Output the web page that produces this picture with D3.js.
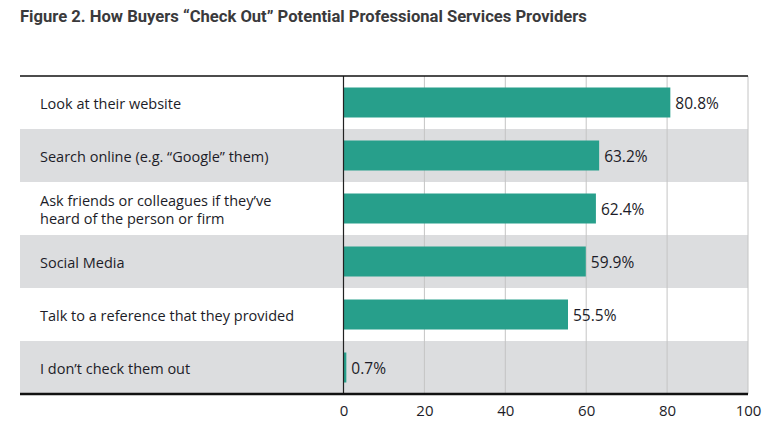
<!DOCTYPE html>
<html><head><meta charset="utf-8">
<script src="https://cdn.jsdelivr.net/npm/d3@7"></script>
<style>
body{margin:0;background:#fff;}
svg{display:block;}
</style></head>
<body>
<svg id="chart" width="782" height="430"></svg>
<script>
const title = "Figure 2. How Buyers \u201CCheck Out\u201D Potential Professional Services Providers";
const categories = [
  ["Look at their website"],
  ["Search online (e.g. \u201CGoogle\u201D them)"],
  ["Ask friends or colleagues if they\u2019ve", "heard of the person or firm"],
  ["Social Media"],
  ["Talk to a reference that they provided"],
  ["I don\u2019t check them out"]
];
const values = [80.8, 63.2, 62.4, 59.9, 55.5, 0.7];
const ticks = [0, 20, 40, 60, 80, 100];

(function () {
const svg = d3.select("#chart");
const L = 20, R = 748, T = 76, B = 394;
const x = d3.scaleLinear().domain([0, 100]).range([343.5, 748]);
const y = d3.scaleBand().domain(d3.range(values.length)).range([T, B]).paddingInner(0).paddingOuter(0);
const barPad = 11.5;
const font = "'Open Sans', Lato, sans-serif";

svg.append("text").attr("x", 20).attr("y", 22)
  .attr("font-family", "'Liberation Sans Narrow', 'Roboto', sans-serif")
  .attr("font-weight", "bold").attr("font-size", 16.6).attr("fill", "#3a3a3c")
  .text(title);

svg.selectAll("rect.band").data(values).enter().append("rect")
  .attr("x", L).attr("width", R - L)
  .attr("y", (d, i) => y(i)).attr("height", y.bandwidth())
  .attr("fill", (d, i) => i % 2 ? "#dcdddf" : "#ffffff");

svg.selectAll("line.grid").data(ticks.slice(1)).enter().append("line")
  .attr("x1", d => x(d)).attr("x2", d => x(d))
  .attr("y1", T).attr("y2", B)
  .attr("stroke", "#c4c4c4").attr("stroke-width", 1);

svg.selectAll("rect.bar").data(values).enter().append("rect")
  .attr("x", x(0)).attr("width", d => x(d) - x(0))
  .attr("y", (d, i) => y(i) + barPad).attr("height", y.bandwidth() - 2 * barPad)
  .attr("fill", "#279f8b");

svg.append("line").attr("x1", x(0)).attr("x2", x(0)).attr("y1", T).attr("y2", B)
  .attr("stroke", "#222").attr("stroke-width", 1.2);

svg.append("line").attr("x1", L).attr("x2", R).attr("y1", T).attr("y2", T)
  .attr("stroke", "#111").attr("stroke-width", 1.5);
svg.append("line").attr("x1", L).attr("x2", R).attr("y1", B).attr("y2", B)
  .attr("stroke", "#111").attr("stroke-width", 2.5);

categories.forEach((lines, i) => {
  const cy = y(i) + y.bandwidth() / 2 + 1;
  const lh = 18;
  lines.forEach((ln, j) => {
    svg.append("text").attr("font-family", font).attr("font-size", 14.5)
      .attr("fill", "#1c1c28").attr("x", 40)
      .attr("y", cy + (j - (lines.length - 1) / 2) * lh)
      .attr("dy", "0.35em").text(ln);
  });
});

svg.selectAll("text.val").data(values).enter().append("text")
  .attr("x", d => x(d) + 5).attr("y", (d, i) => y(i) + y.bandwidth() / 2 + 1)
  .attr("dy", "0.36em").attr("font-family", font).attr("font-size", 15.5)
  .attr("fill", "#1c1c28").text(d => d.toFixed(1) + "%");

const axis = d3.axisBottom(x).tickValues(ticks).tickSize(0).tickPadding(11).tickFormat(d3.format("d"));
const g = svg.append("g").attr("transform", `translate(0,${B})`).call(axis);
g.select(".domain").remove();
g.selectAll("text").attr("font-family", font).attr("font-size", 15).attr("fill", "#1c1c28");
})();
</script>
</body></html>
